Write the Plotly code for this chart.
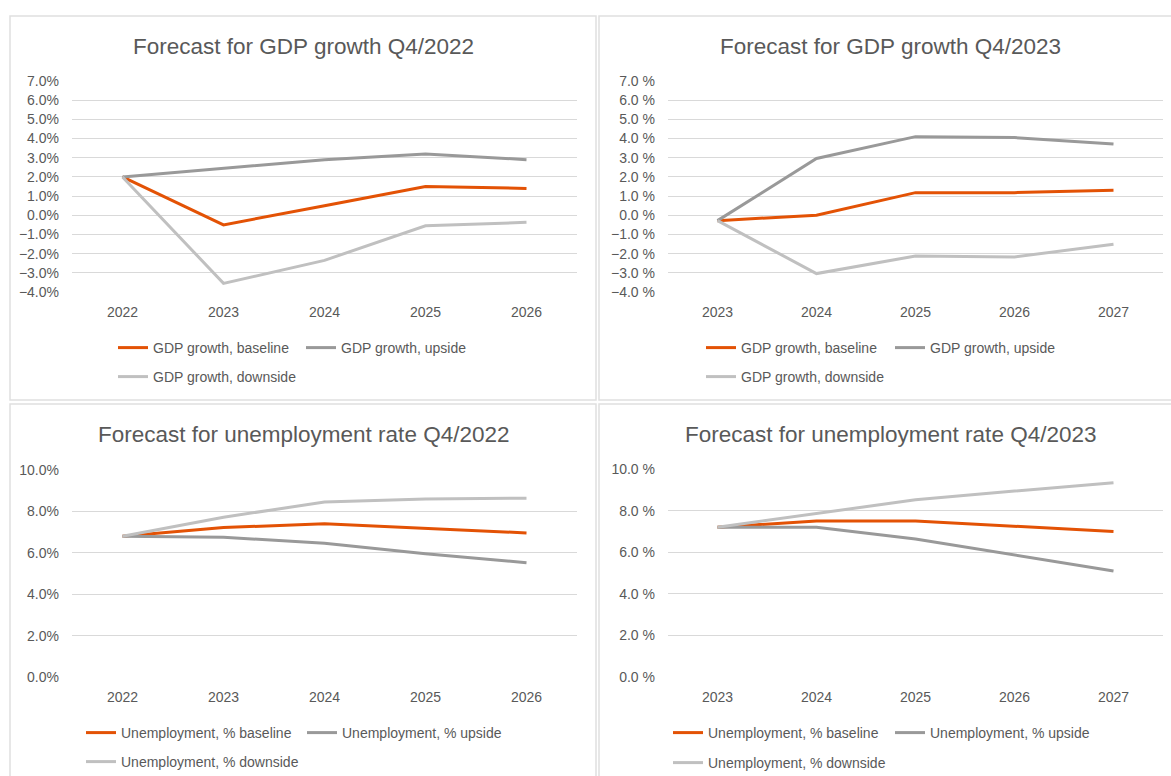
import plotly.graph_objects as go

W, H = 1171, 776

# ---------------- data ----------------
years_2022 = ["2022", "2023", "2024", "2025", "2026"]
years_2023 = ["2023", "2024", "2025", "2026", "2027"]

gdp22_baseline = [2.0, -0.5, 0.5, 1.5, 1.4]
gdp22_upside = [2.0, 2.45, 2.9, 3.2, 2.9]
gdp22_downside = [2.0, -3.55, -2.35, -0.55, -0.37]

gdp23_baseline = [-0.28, 0.0, 1.18, 1.18, 1.3]
gdp23_upside = [-0.28, 2.96, 4.1, 4.05, 3.72]
gdp23_downside = [-0.28, -3.04, -2.12, -2.17, -1.51]

unemp22_baseline = [6.8, 7.22, 7.4, 7.17, 6.96]
unemp22_upside = [6.8, 6.75, 6.46, 5.95, 5.52]
unemp22_downside = [6.8, 7.72, 8.45, 8.6, 8.64]

unemp23_baseline = [7.2, 7.5, 7.5, 7.26, 7.0]
unemp23_upside = [7.2, 7.2, 6.63, 5.86, 5.1]
unemp23_downside = [7.2, 7.85, 8.52, 8.94, 9.34]

titles = [
    "Forecast for GDP growth Q4/2022",
    "Forecast for GDP growth Q4/2023",
    "Forecast for unemployment rate Q4/2022",
    "Forecast for unemployment rate Q4/2023",
]
gdp_names = ["GDP growth, baseline", "GDP growth, upside", "GDP growth, downside"]
unemp_names = ["Unemployment, % baseline", "Unemployment, % upside", "Unemployment, % downside"]

# ---------------- style ----------------
C_BASE = "#E35205"
C_UP = "#999999"
C_DOWN = "#C0C0C0"
TXT = "#595959"
GRID = "#D9D9D9"
FONT = "Liberation Sans, Arial, sans-serif"


def px(x):
    return x / W


def py(y):
    return 1 - y / H


panels = [
    dict(x=years_2022, series=[gdp22_baseline, gdp22_upside, gdp22_downside], names=gdp_names,
         xd=(72, 577), yd=(81, 292), rng=[-4, 7], dtick=1, suf="%", title_xy=(303, 46),
         box=(10, 16, 596, 400), legpos=[(119, 348), (307, 348), (119, 377)]),
    dict(x=years_2023, series=[gdp23_baseline, gdp23_upside, gdp23_downside], names=gdp_names,
         xd=(668, 1163), yd=(81, 292), rng=[-4, 7], dtick=1, suf=" %", title_xy=(890, 46),
         box=(599, 16, 1180, 400), legpos=[(707, 348), (896, 348), (707, 377)]),
    dict(x=years_2022, series=[unemp22_baseline, unemp22_upside, unemp22_downside], names=unemp_names,
         xd=(72, 577), yd=(470, 677), rng=[0, 10], dtick=2, suf="%", title_xy=(303, 434),
         box=(10, 404, 596, 790), legpos=[(87, 733), (308, 733), (87, 762)]),
    dict(x=years_2023, series=[unemp23_baseline, unemp23_upside, unemp23_downside], names=unemp_names,
         xd=(668, 1163), yd=(469, 677), rng=[0, 10], dtick=2, suf=" %", title_xy=(890, 434),
         box=(599, 404, 1180, 790), legpos=[(674, 733), (896, 733), (674, 763)]),
]

fig = go.Figure()
colors = [C_BASE, C_UP, C_DOWN]
layout = dict(
    width=W, height=H, margin=dict(l=0, r=0, t=0, b=0, autoexpand=False),
    paper_bgcolor="white", plot_bgcolor="white", showlegend=True,
    font=dict(family=FONT, color=TXT),
    shapes=[], annotations=[],
)

for i, p in enumerate(panels):
    n = i + 1
    xa = "x" if n == 1 else f"x{n}"
    ya = "y" if n == 1 else f"y{n}"
    for k in range(3):
        idx = 3 * i + k + 1
        lkey = "legend" if idx == 1 else f"legend{idx}"
        fig.add_trace(go.Scatter(
            x=p["x"], y=p["series"][k], name=p["names"][k], mode="lines",
            line=dict(color=colors[k], width=3),
            xaxis=xa, yaxis=ya, legend=lkey, showlegend=True,
            hoverinfo="x+y+name",
        ))
        lx, ly = p["legpos"][k]
        layout[lkey] = dict(
            orientation="h", x=px(lx - 6), y=py(ly), xanchor="left", yanchor="middle",
            font=dict(size=14, color=TXT, family=FONT), bgcolor="rgba(0,0,0,0)",
            itemclick=False, itemdoubleclick=False, borderwidth=0, visible=True,
        )
    xkey = "xaxis" if n == 1 else f"xaxis{n}"
    ykey = "yaxis" if n == 1 else f"yaxis{n}"
    layout[xkey] = dict(
        domain=[px(p["xd"][0]), px(p["xd"][1])], anchor=ya, type="category",
        range=[-0.5, 4.5], showgrid=False, zeroline=False, showline=False,
        ticks="", tickfont=dict(size=14, color=TXT, family=FONT), ticklabelstandoff=10,
        fixedrange=True,
    )
    layout[ykey] = dict(
        domain=[py(p["yd"][1]), py(p["yd"][0])], anchor=xa, range=p["rng"], dtick=p["dtick"],
        tick0=0, tickformat=".1f", ticksuffix=p["suf"], showgrid=True, gridcolor=GRID,
        gridwidth=1, zeroline=False, showline=False, ticks="",
        tickfont=dict(size=14, color=TXT, family=FONT), ticklabelstandoff=12, fixedrange=True,
    )
    bx = p["box"]
    layout["shapes"].append(dict(
        type="rect", xref="paper", yref="paper",
        x0=px(bx[0]), x1=px(bx[2]), y0=py(bx[3]), y1=py(bx[1]),
        line=dict(color="#E0E0E0", width=1.5), fillcolor="rgba(0,0,0,0)", layer="below",
    ))
    layout["annotations"].append(dict(
        text=titles[i], xref="paper", yref="paper", x=px(p["title_xy"][0]), y=py(p["title_xy"][1]),
        xanchor="center", yanchor="middle", showarrow=False,
        font=dict(size=22.5, color=TXT, family=FONT),
    ))

fig.update_layout(**layout)
fig.write_html("out.html")
